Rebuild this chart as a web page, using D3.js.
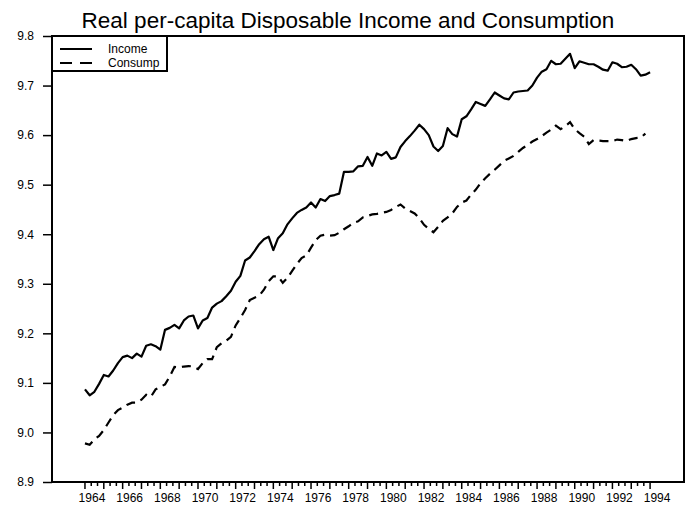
<!DOCTYPE html>
<html>
<head>
<meta charset="utf-8">
<script src="https://cdn.jsdelivr.net/npm/d3@7"></script>
<style>
  body { margin: 0; background: #fff; }
  text { font-family: "Liberation Sans", Arial, sans-serif; fill: #000; }
</style>
</head>
<body>
<svg width="686" height="509"></svg>
<script>
// quarterly data, first point is 1964Q1
const startYear = 1964;

const income = [
  9.087, 9.075, 9.082, 9.098,  9.116, 9.113, 9.125, 9.140,  // 64-65
  9.152, 9.155, 9.150, 9.159,  9.153, 9.175, 9.178, 9.174,  // 66-67
  9.167, 9.207, 9.211, 9.217,  9.210, 9.226, 9.234, 9.236,  // 68-69
  9.210, 9.226, 9.231, 9.252,  9.260, 9.265, 9.275, 9.286,  // 70-71
  9.304, 9.316, 9.347, 9.353,  9.366, 9.380, 9.390, 9.395,  // 72-73
  9.368, 9.392, 9.402, 9.420,  9.432, 9.443, 9.449, 9.454,  // 74-75
  9.464, 9.454, 9.471, 9.467,  9.477, 9.479, 9.482, 9.526,  // 76-77
  9.526, 9.527, 9.537, 9.538,  9.556, 9.538, 9.563, 9.559,  // 78-79
  9.566, 9.552, 9.555, 9.576,  9.588, 9.598, 9.609, 9.621,  // 80-81
  9.612, 9.600, 9.577, 9.568,  9.578, 9.614, 9.602, 9.597,  // 82-83
  9.632, 9.638, 9.652, 9.667,  9.663, 9.659, 9.672, 9.686,  // 84-85
  9.680, 9.674, 9.672, 9.686,  9.688, 9.689, 9.690, 9.700,  // 86-87
  9.716, 9.728, 9.733, 9.750,  9.743, 9.744, 9.754, 9.764,  // 88-89
  9.735, 9.749, 9.746, 9.743,  9.743, 9.738, 9.732, 9.730,  // 90-91
  9.747, 9.744, 9.737, 9.738,  9.742, 9.733, 9.720, 9.722,  // 92-93
  9.727                                                     // 94
];

const consump = [
  8.978, 8.975, 8.986, 8.993,  9.005, 9.020, 9.035, 9.045,
  9.050, 9.056, 9.060, 9.060,  9.066, 9.076, 9.072, 9.087,
  9.092, 9.097, 9.113, 9.132,  9.131, 9.133, 9.134, 9.133,
  9.128, 9.140, 9.148, 9.148,  9.172, 9.180, 9.185, 9.193,
  9.216, 9.231, 9.247, 9.267,  9.272, 9.276, 9.288, 9.305,
  9.315, 9.315, 9.302, 9.312,  9.326, 9.340, 9.352, 9.357,
  9.373, 9.388, 9.397, 9.399,  9.397, 9.398, 9.403, 9.410,
  9.416, 9.423, 9.426, 9.434,  9.437, 9.440, 9.441, 9.443,
  9.445, 9.449, 9.455, 9.460,  9.452, 9.447, 9.442, 9.432,
  9.419, 9.411, 9.404, 9.415,  9.427, 9.434, 9.442, 9.455,
  9.464, 9.468, 9.480, 9.490,  9.503, 9.513, 9.522, 9.530,
  9.539, 9.548, 9.553, 9.558,  9.566, 9.574, 9.580, 9.587,
  9.592, 9.598, 9.605, 9.611,  9.619, 9.612, 9.618, 9.626,
  9.612, 9.604, 9.597, 9.582,  9.590, 9.589, 9.588, 9.588,
  9.588, 9.591, 9.590, 9.588,  9.592, 9.594, 9.595, 9.603
];

const yearLabels = [1964, 1966, 1968, 1970, 1972, 1974, 1976, 1978,
  1980, 1982, 1984, 1986, 1988, 1990, 1992, 1994];
const yTicks = [8.9, 9.0, 9.1, 9.2, 9.3, 9.4, 9.5, 9.6, 9.7, 9.8];

const seriesNames = ["Income", "Consump"];

const svg = d3.select("svg");
const plotLeft = 52, plotRight = 684, plotTop = 36, plotBottom = 482;

const x = d3.scaleLinear().domain([1962.25, 1995.8]).range([plotLeft, plotRight]);
const y = d3.scaleLinear().domain([8.9, 9.8]).range([plotBottom, plotTop]);

// title
svg.append("text")
  .attr("x", 348)
  .attr("y", 28)
  .attr("text-anchor", "middle")
  .style("font-size", "22.5px")
  .text("Real per-capita Disposable Income and Consumption");

// plot frame
svg.append("rect")
  .attr("x", plotLeft).attr("y", plotTop)
  .attr("width", plotRight - plotLeft).attr("height", plotBottom - plotTop)
  .attr("fill", "none")
  .attr("stroke", "#000")
  .attr("stroke-width", 2);

// y axis
const yAxis = d3.axisLeft(y)
  .tickValues(yTicks)
  .tickFormat(d3.format(".1f"))
  .tickSize(9)
  .tickPadding(9);

svg.append("g")
  .attr("transform", `translate(${plotLeft},0)`)
  .call(yAxis)
  .call((g) => g.select(".domain").remove())
  .call((g) => g.selectAll("line").attr("stroke-width", 1.5))
  .call((g) => g.selectAll("text").style("font-size", "12px")
    .style("font-family", "'Liberation Sans', Arial, sans-serif"));

// x axis: small ticks every third of a year, longer at the years
const minorTicks = d3.range(0, 30 * 3 + 1).map((i) => startYear + i / 3);

svg.append("g")
  .selectAll("line")
  .data(minorTicks)
  .join("line")
  .attr("x1", (d) => x(d))
  .attr("x2", (d) => x(d))
  .attr("y1", plotBottom)
  .attr("y2", (d, i) => plotBottom + (i % 3 === 0 ? 7 : 4))
  .attr("stroke", "#000")
  .attr("stroke-width", 1.5);

svg.append("g")
  .selectAll("text")
  .data(yearLabels)
  .join("text")
  .attr("x", (d) => x(d) + 7)
  .attr("y", 502)
  .attr("text-anchor", "middle")
  .style("font-size", "12px")
  .text((d) => d);

// lines
const line = d3.line()
  .x((d, i) => x(startYear + i / 4))
  .y((d) => y(d));

svg.append("path")
  .datum(income)
  .attr("d", line)
  .attr("fill", "none")
  .attr("stroke", "#000")
  .attr("stroke-width", 2.2)
  .attr("stroke-linejoin", "round");

svg.append("path")
  .datum(consump)
  .attr("d", line)
  .attr("fill", "none")
  .attr("stroke", "#000")
  .attr("stroke-width", 2.2)
  .attr("stroke-dasharray", "9,6");

// legend
const legend = svg.append("g");
legend.append("rect")
  .attr("x", plotLeft).attr("y", plotTop)
  .attr("width", 115).attr("height", 35)
  .attr("fill", "#fff")
  .attr("stroke", "#000")
  .attr("stroke-width", 2);

seriesNames.forEach((name, i) => {
  const ly = 49 + i * 14;
  legend.append("line")
    .attr("x1", 60).attr("x2", 92)
    .attr("y1", ly).attr("y2", ly)
    .attr("stroke", "#000")
    .attr("stroke-width", 2)
    .attr("stroke-dasharray", i === 1 ? "12,8" : null);
  legend.append("text")
    .attr("x", 108)
    .attr("y", ly + 4)
    .style("font-size", "12px")
    .text(name);
});
</script>
</body>
</html>
